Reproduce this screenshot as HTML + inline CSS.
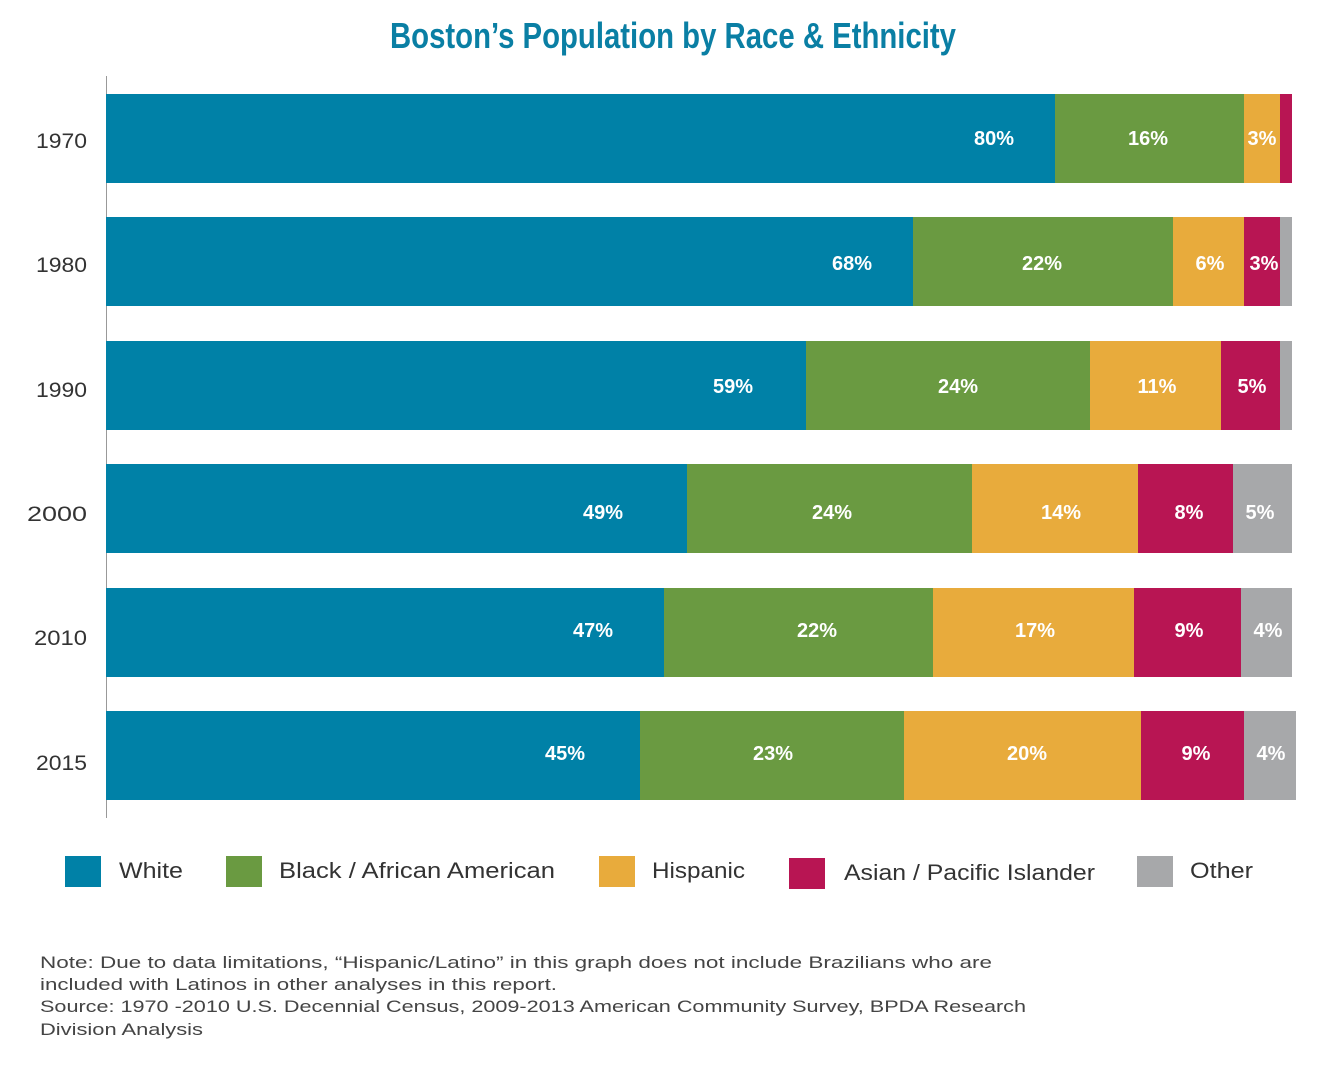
<!DOCTYPE html>
<html><head><meta charset="utf-8"><style>
html,body{margin:0;padding:0;background:#fff}
svg{display:block}
</style></head><body>
<svg width="1328" height="1070" xmlns="http://www.w3.org/2000/svg" font-family="'Liberation Sans', sans-serif">
<text x="673" y="48" text-anchor="middle" font-family="'Liberation Sans Narrow','Liberation Sans',sans-serif" font-weight="bold" font-size="36" fill="#0a7fa4" textLength="566" lengthAdjust="spacingAndGlyphs">Boston’s Population by Race &amp; Ethnicity</text>
<line x1="106.5" y1="76" x2="106.5" y2="818" stroke="#999" stroke-width="1"/>
<g font-size="21" fill="#333" text-anchor="end" lengthAdjust="spacingAndGlyphs">
<text x="87" y="148" textLength="51" lengthAdjust="spacingAndGlyphs">1970</text><text x="87" y="272" textLength="51" lengthAdjust="spacingAndGlyphs">1980</text><text x="87" y="397" textLength="51" lengthAdjust="spacingAndGlyphs">1990</text>
<text x="87" y="521" textLength="60" lengthAdjust="spacingAndGlyphs">2000</text><text x="87" y="645" textLength="53" lengthAdjust="spacingAndGlyphs">2010</text><text x="87" y="770" textLength="51" lengthAdjust="spacingAndGlyphs">2015</text>
</g>
<g>
<rect x="106" y="94" width="949" height="89" fill="#0081a7"/><rect x="1055" y="94" width="189" height="89" fill="#6a9a41"/><rect x="1244" y="94" width="36" height="89" fill="#e8ab3c"/><rect x="1280" y="94" width="12" height="89" fill="#b81553"/>
<rect x="106" y="217" width="807" height="89" fill="#0081a7"/><rect x="913" y="217" width="260" height="89" fill="#6a9a41"/><rect x="1173" y="217" width="71" height="89" fill="#e8ab3c"/><rect x="1244" y="217" width="36" height="89" fill="#b81553"/><rect x="1280" y="217" width="12" height="89" fill="#a7a8aa"/>
<rect x="106" y="341" width="700" height="89" fill="#0081a7"/><rect x="806" y="341" width="284" height="89" fill="#6a9a41"/><rect x="1090" y="341" width="131" height="89" fill="#e8ab3c"/><rect x="1221" y="341" width="59" height="89" fill="#b81553"/><rect x="1280" y="341" width="12" height="89" fill="#a7a8aa"/>
<rect x="106" y="464" width="581" height="89" fill="#0081a7"/><rect x="687" y="464" width="285" height="89" fill="#6a9a41"/><rect x="972" y="464" width="166" height="89" fill="#e8ab3c"/><rect x="1138" y="464" width="95" height="89" fill="#b81553"/><rect x="1233" y="464" width="59" height="89" fill="#a7a8aa"/>
<rect x="106" y="588" width="558" height="89" fill="#0081a7"/><rect x="664" y="588" width="269" height="89" fill="#6a9a41"/><rect x="933" y="588" width="201" height="89" fill="#e8ab3c"/><rect x="1134" y="588" width="107" height="89" fill="#b81553"/><rect x="1241" y="588" width="51" height="89" fill="#a7a8aa"/>
<rect x="106" y="711" width="534" height="89" fill="#0081a7"/><rect x="640" y="711" width="264" height="89" fill="#6a9a41"/><rect x="904" y="711" width="237" height="89" fill="#e8ab3c"/><rect x="1141" y="711" width="103" height="89" fill="#b81553"/><rect x="1244" y="711" width="52" height="89" fill="#a7a8aa"/>
</g>
<g font-size="20" font-weight="bold" fill="#fff" text-anchor="middle">
<text x="994" y="145">80%</text><text x="1148" y="145">16%</text><text x="1262" y="145">3%</text>
<text x="852" y="270">68%</text><text x="1042" y="270">22%</text><text x="1210" y="270">6%</text><text x="1264" y="270">3%</text>
<text x="733" y="393">59%</text><text x="958" y="393">24%</text><text x="1157" y="393">11%</text><text x="1252" y="393">5%</text>
<text x="603" y="519">49%</text><text x="832" y="519">24%</text><text x="1061" y="519">14%</text><text x="1189" y="519">8%</text><text x="1260" y="519">5%</text>
<text x="593" y="637">47%</text><text x="817" y="637">22%</text><text x="1035" y="637">17%</text><text x="1189" y="637">9%</text><text x="1268" y="637">4%</text>
<text x="565" y="760">45%</text><text x="773" y="760">23%</text><text x="1027" y="760">20%</text><text x="1196" y="760">9%</text><text x="1271" y="760">4%</text>
</g>
<g font-size="22" fill="#333">
<rect x="65" y="856" width="36" height="31" fill="#0081a7"/><text x="119" y="878" textLength="64" lengthAdjust="spacingAndGlyphs">White</text>
<rect x="226" y="856" width="36" height="31" fill="#6a9a41"/><text x="279" y="878" textLength="276" lengthAdjust="spacingAndGlyphs">Black / African American</text>
<rect x="599" y="856" width="36" height="31" fill="#e8ab3c"/><text x="652" y="878" textLength="93" lengthAdjust="spacingAndGlyphs">Hispanic</text>
<rect x="789" y="858" width="36" height="31" fill="#b81553"/><text x="844" y="880" textLength="251" lengthAdjust="spacingAndGlyphs">Asian / Pacific Islander</text>
<rect x="1137" y="856" width="36" height="31" fill="#a7a8aa"/><text x="1190" y="878" textLength="63" lengthAdjust="spacingAndGlyphs">Other</text>
</g>
<g font-size="17" fill="#444">
<text x="40" y="968" textLength="952" lengthAdjust="spacingAndGlyphs">Note:  Due to data limitations, “Hispanic/Latino” in this graph does not include Brazilians who are</text>
<text x="40" y="990" textLength="517" lengthAdjust="spacingAndGlyphs">included with Latinos in other analyses in this report.</text>
<text x="40" y="1012" textLength="986" lengthAdjust="spacingAndGlyphs">Source: 1970 -2010 U.S. Decennial Census, 2009-2013 American Community Survey, BPDA Research</text>
<text x="40" y="1035" textLength="163" lengthAdjust="spacingAndGlyphs">Division Analysis</text>
</g>
</svg>
</body></html>
